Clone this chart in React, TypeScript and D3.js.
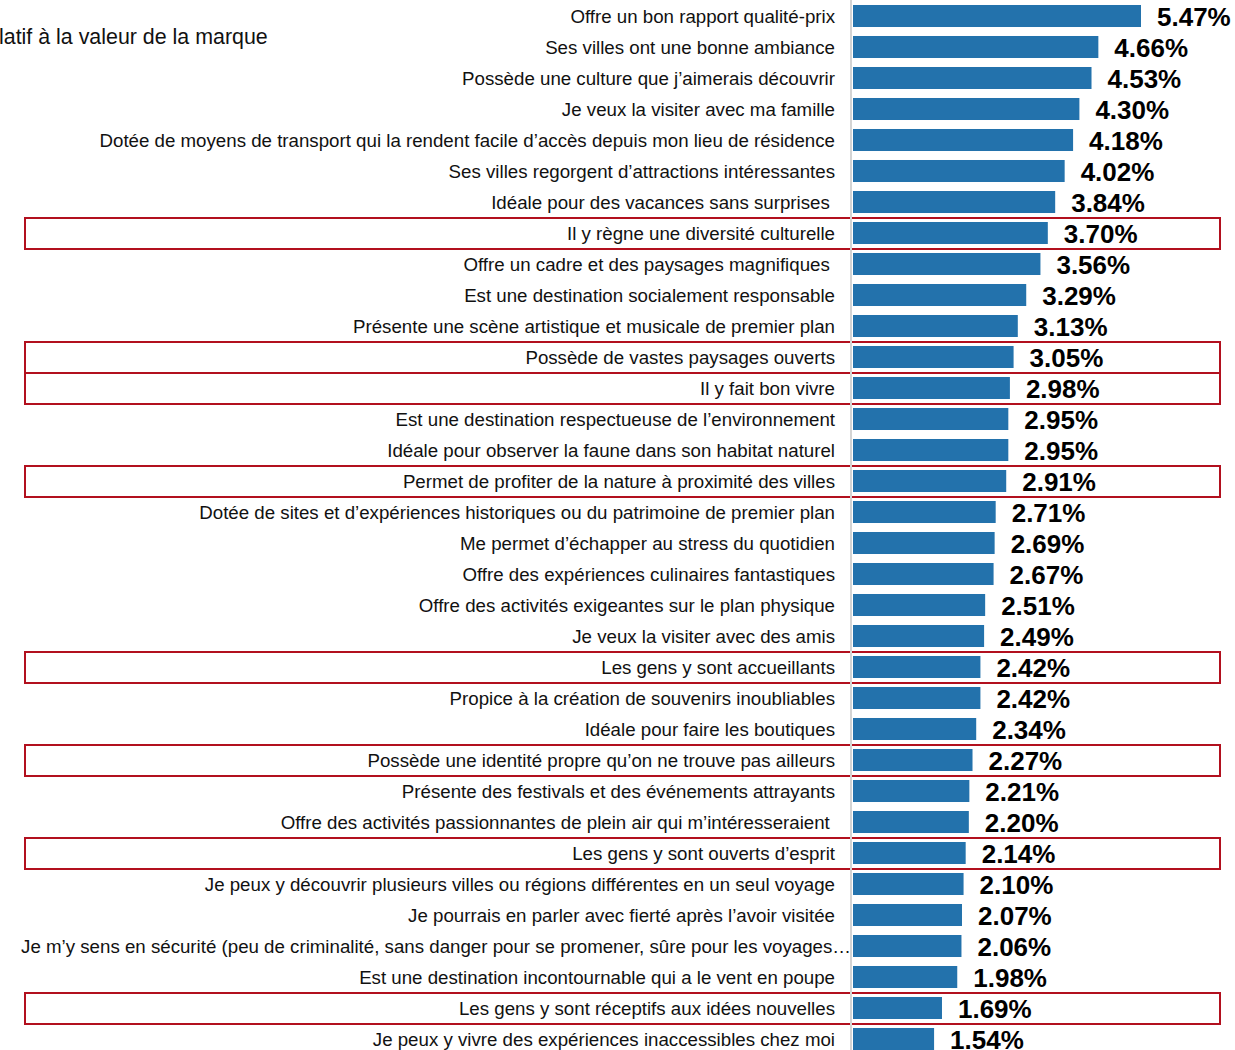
import React, { useEffect, useRef } from "react";
import * as d3 from "d3";

const categories = [
  "Offre un bon rapport qualité-prix",
  "Ses villes ont une bonne ambiance",
  "Possède une culture que j’aimerais découvrir",
  "Je veux la visiter avec ma famille",
  "Dotée de moyens de transport qui la rendent facile d’accès depuis mon lieu de résidence",
  "Ses villes regorgent d’attractions intéressantes",
  "Idéale pour des vacances sans surprises\u00a0",
  "Il y règne une diversité culturelle",
  "Offre un cadre et des paysages magnifiques\u00a0",
  "Est une destination socialement responsable",
  "Présente une scène artistique et musicale de premier plan",
  "Possède de vastes paysages ouverts",
  "Il y fait bon vivre",
  "Est une destination respectueuse de l’environnement",
  "Idéale pour observer la faune dans son habitat naturel",
  "Permet de profiter de la nature à proximité des villes",
  "Dotée de sites et d’expériences historiques ou du patrimoine de premier plan",
  "Me permet d’échapper au stress du quotidien",
  "Offre des expériences culinaires fantastiques",
  "Offre des activités exigeantes sur le plan physique",
  "Je veux la visiter avec des amis",
  "Les gens y sont accueillants",
  "Propice à la création de souvenirs inoubliables",
  "Idéale pour faire les boutiques",
  "Possède une identité propre qu’on ne trouve pas ailleurs",
  "Présente des festivals et des événements attrayants",
  "Offre des activités passionnantes de plein air qui m’intéresseraient\u00a0",
  "Les gens y sont ouverts d’esprit",
  "Je peux y découvrir plusieurs villes ou régions différentes en un seul voyage",
  "Je pourrais en parler avec fierté après l’avoir visitée",
  "Je m’y sens en sécurité (peu de criminalité, sans danger pour se promener, sûre pour les voyages…",
  "Est une destination incontournable qui a le vent en poupe",
  "Les gens y sont réceptifs aux idées nouvelles",
  "Je peux y vivre des expériences inaccessibles chez moi",
];

const values = [
  5.47, 4.66, 4.53, 4.3, 4.18, 4.02, 3.84, 3.7, 3.56, 3.29, 3.13, 3.05, 2.98,
  2.95, 2.95, 2.91, 2.71, 2.69, 2.67, 2.51, 2.49, 2.42, 2.42, 2.34, 2.27, 2.21,
  2.2, 2.14, 2.1, 2.07, 2.06, 1.98, 1.69, 1.54,
];

const highlighted = [
  "Il y règne une diversité culturelle",
  "Possède de vastes paysages ouverts",
  "Il y fait bon vivre",
  "Permet de profiter de la nature à proximité des villes",
  "Les gens y sont accueillants",
  "Possède une identité propre qu’on ne trouve pas ailleurs",
  "Les gens y sont ouverts d’esprit",
  "Les gens y sont réceptifs aux idées nouvelles",
];

const titleText = "latif à la valeur de la marque";

const App: React.FC = () => {
  const ref = useRef<SVGSVGElement>(null);

  useEffect(() => {
    const width = 1235;
    const height = 1050;
    const x0 = 853;
    const font = "'Liberation Sans', Arial, sans-serif";

    const data = categories.map((c, i) => ({ cat: c, value: values[i] }));

    const x = d3.scaleLinear().domain([0, 5.47]).range([x0, 1141]);
    const y = d3
      .scaleBand()
      .domain(categories)
      .range([0.5, 0.5 + categories.length * 31])
      .paddingInner(0.29)
      .paddingOuter(0.145);

    const svg = d3.select(ref.current);
    svg.selectAll("*").remove();
    svg.attr("width", width).attr("height", height);

    svg
      .append("text")
      .attr("x", -1)
      .attr("y", 44)
      .attr("font-family", font)
      .attr("font-size", 21.4)
      .attr("fill", "#111")
      .text(titleText);

    // red highlight boxes
    svg
      .append("g")
      .selectAll("rect")
      .data(data.filter((d) => highlighted.includes(d.cat)))
      .join("rect")
      .attr("x", 25)
      .attr("y", (d) => y(d.cat)! + y.bandwidth() / 2 - 15)
      .attr("width", 1195)
      .attr("height", 31)
      .attr("fill", "none")
      .attr("stroke", "#b2101e")
      .attr("stroke-width", 2);

    // bars
    svg
      .append("g")
      .selectAll("rect")
      .data(data)
      .join("rect")
      .attr("x", x(0))
      .attr("y", (d) => y(d.cat)!)
      .attr("width", (d) => x(d.value) - x(0))
      .attr("height", y.bandwidth())
      .attr("fill", "#2372ac");

    // axis line
    svg
      .append("line")
      .attr("x1", x0 - 2)
      .attr("x2", x0 - 2)
      .attr("y1", 0)
      .attr("y2", height)
      .attr("stroke", "#d4d4d4")
      .attr("stroke-width", 2);

    // category labels
    svg
      .append("g")
      .selectAll("text")
      .data(data)
      .join("text")
      .attr("x", (d) => (d.cat.endsWith("…") ? 851 : 835))
      .attr("y", (d) => y(d.cat)! + y.bandwidth() / 2 + 7)
      .attr("text-anchor", "end")
      .attr("font-family", font)
      .attr("font-size", 18.7)
      .attr("fill", "#111")
      .text((d) => d.cat);

    // value labels
    svg
      .append("g")
      .selectAll("text")
      .data(data)
      .join("text")
      .attr("x", (d) => x(d.value) + 16)
      .attr("y", (d) => y(d.cat)! + y.bandwidth() / 2 + 10)
      .attr("font-family", font)
      .attr("font-size", 26)
      .attr("font-weight", "bold")
      .attr("fill", "#000")
      .text((d) => d.value.toFixed(2) + "%");
  }, []);

  return (
    <div style={{ position: "absolute", left: 0, top: 0, background: "#fff" }}>
      <svg ref={ref} style={{ display: "block" }}></svg>
    </div>
  );
};

export default App;
